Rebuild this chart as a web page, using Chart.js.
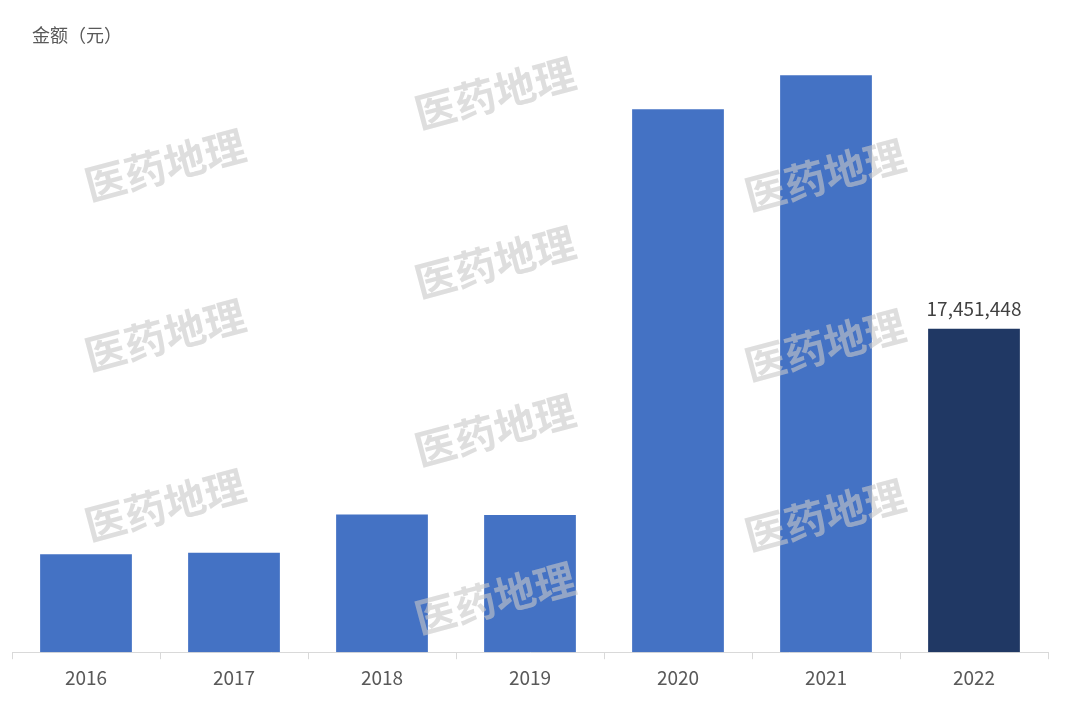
<!DOCTYPE html>
<html>
<head>
<meta charset="utf-8">
<script src="https://cdn.jsdelivr.net/npm/chart.js@4"></script>
<style>
  html, body { margin: 0; padding: 0; background: #fff; }
  #wrap { width: 1080px; height: 711px; position: relative; }
</style>
</head>
<body>
<div id="wrap"><canvas id="chartCanvas"></canvas></div>
<script>
// ── data ──────────────────────────────────────────────
const years  = ['2016', '2017', '2018', '2019', '2020', '2021', '2022'];
const amounts = [5290000, 5360000, 7430000, 7400000, 29290000, 31130000, 17451448];
const barColors = ['#4472C4', '#4472C4', '#4472C4', '#4472C4', '#4472C4', '#4472C4', '#203864'];
const yMax = 32000000;
const unitLabel = '金额（元）';
const watermarkText = '医药地理';

const FONT = "'Noto Sans CJK SC', 'Noto Sans', sans-serif";

// title in top-left corner
const titlePlugin = {
  id: 'unitTitle',
  afterDraw(chart) {
    const ctx = chart.ctx;
    ctx.save();
    ctx.font = `18px ${FONT}`;
    ctx.fillStyle = '#595959';
    ctx.textBaseline = 'middle';
    ctx.fillText(unitLabel, 32, 35);
    ctx.restore();
  }
};

// value label only on the last (highlighted) bar
const lastLabelPlugin = {
  id: 'lastLabel',
  afterDatasetsDraw(chart) {
    const meta = chart.getDatasetMeta(0);
    const i = amounts.length - 1;
    const bar = meta.data[i];
    const ctx = chart.ctx;
    ctx.save();
    ctx.font = `19px ${FONT}`;
    ctx.fillStyle = '#404040';
    ctx.textAlign = 'center';
    ctx.textBaseline = 'alphabetic';
    ctx.fillText(amounts[i].toLocaleString('en-US'), bar.x, bar.y - 13);
    ctx.restore();
  }
};

// faint rotated watermark tiles
const watermarkPlugin = {
  id: 'watermark',
  afterDatasetsDraw(chart) {
    const ctx = chart.ctx;
    const spots = [
      [165, 165], [165, 335], [165, 505],
      [495, 93], [495, 262], [495, 430], [495, 598],
      [825, 175], [825, 345], [825, 515]
    ];
    ctx.save();
    ctx.font = `bold 41px ${FONT}`;
    ctx.fillStyle = 'rgba(200, 200, 200, 0.6)';
    ctx.textAlign = 'center';
    ctx.textBaseline = 'middle';
    spots.forEach(([x, y]) => {
      ctx.save();
      ctx.translate(x, y);
      ctx.rotate(-15 * Math.PI / 180);
      ctx.fillText(watermarkText, 0, 0);
      ctx.restore();
    });
    ctx.restore();
  }
};

new Chart(document.getElementById('chartCanvas'), {
  type: 'bar',
  data: {
    labels: years,
    datasets: [{
      data: amounts,
      backgroundColor: barColors,
      borderWidth: 0,
      categoryPercentage: 0.62,
      barPercentage: 1.0
    }]
  },
  options: {
    responsive: true,
    maintainAspectRatio: false,
    animation: false,
    layout: { padding: { top: 59, left: 12, right: 32, bottom: 15 } },
    plugins: {
      legend: { display: false },
      tooltip: { enabled: false }
    },
    scales: {
      x: {
        offset: true,
        grid: {
          offset: true,
          drawOnChartArea: false,
          drawTicks: true,
          tickLength: 7,
          color: '#D9D9D9'
        },
        border: { color: '#D9D9D9', width: 1 },
        ticks: {
          color: '#595959',
          font: { family: FONT, size: 19 },
          padding: 7,
          maxRotation: 0
        }
      },
      y: {
        display: false,
        min: 0,
        max: yMax
      }
    }
  },
  plugins: [watermarkPlugin, lastLabelPlugin, titlePlugin]
});
</script>
</body>
</html>
